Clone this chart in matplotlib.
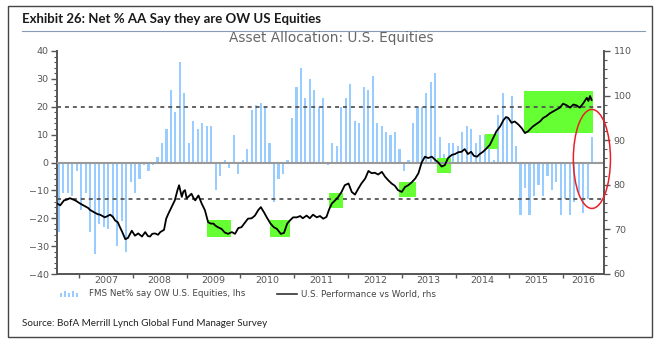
import numpy as np
import matplotlib.pyplot as plt
from matplotlib.patches import Rectangle, Ellipse
from matplotlib.lines import Line2D
from matplotlib.ticker import MultipleLocator

# FMS: net % of asset allocators overweight US equities, monthly from Aug 2006 (lhs)
fms_start = 2006 + 7 / 12 + 1 / 24
fms_net_ow = [
    -25, -11, -11, -12, -3, -17, -11, -25, -33, -22, -23, -24,
    -20, -30, -21, -32, -7, -11, -6, -1, -3, -1, 2, 7,
    12, 26, 18, 36, 25, 7, 15, 12, 14, 13, 13, -10,
    -5, 1, -2, 10, -4, 1, 5, 19, 20.5, 21.5, 20, 7,
    -14, -6, -4, 1, 16, 27, 34, 23, 30, 26, 20, 23,
    -1, 7, 6, 20, 23, 28, 15, 14, 27, 26, 31, 14,
    13, 11, 10, 11, 5, -3, 1, 14, 20, 20, 25, 29,
    32, 9, 3, 7, 7, 6, 11, 13, 12, 7, 10, 10,
    5, 1, 17, 25, 16, 24, 6, -19, -9, -19, -12, -8,
    -12, -5, -10, -7, -19, -13, -19, -14, -11, -18, -13, 9,
]

# US equity performance vs world (rhs)
perf_years = [
    2006.59, 2006.65, 2006.72, 2006.78, 2006.83, 2006.93, 2007.02, 2007.11,
    2007.17, 2007.20, 2007.30, 2007.35, 2007.39, 2007.48, 2007.58, 2007.63,
    2007.67, 2007.72, 2007.76, 2007.80, 2007.86, 2007.91, 2007.98, 2008.04,
    2008.10, 2008.17, 2008.23, 2008.28, 2008.32, 2008.36, 2008.41, 2008.47,
    2008.51, 2008.58, 2008.62, 2008.66, 2008.72, 2008.78, 2008.83, 2008.86,
    2008.91, 2008.94, 2008.97, 2009.00, 2009.03, 2009.09, 2009.13, 2009.16,
    2009.22, 2009.28, 2009.34, 2009.40, 2009.45, 2009.50, 2009.53, 2009.58,
    2009.65, 2009.71, 2009.77, 2009.84, 2009.90, 2009.96, 2010.02, 2010.09,
    2010.14, 2010.21, 2010.27, 2010.33, 2010.38, 2010.44, 2010.49, 2010.56,
    2010.62, 2010.68, 2010.75, 2010.81, 2010.87, 2010.92, 2010.98, 2011.05,
    2011.11, 2011.16, 2011.23, 2011.29, 2011.35, 2011.42, 2011.48, 2011.54,
    2011.60, 2011.65, 2011.70, 2011.76, 2011.82, 2011.88, 2011.94, 2012.01,
    2012.07, 2012.13, 2012.19, 2012.25, 2012.32, 2012.38, 2012.44, 2012.50,
    2012.56, 2012.63, 2012.69, 2012.75, 2012.81, 2012.87, 2012.93, 2013.00,
    2013.06, 2013.12, 2013.18, 2013.25, 2013.31, 2013.37, 2013.43, 2013.49,
    2013.56, 2013.62, 2013.68, 2013.74, 2013.80, 2013.86, 2013.93, 2013.99,
    2014.05, 2014.11, 2014.17, 2014.23, 2014.29, 2014.34, 2014.40, 2014.45,
    2014.51, 2014.58, 2014.64, 2014.70, 2014.76, 2014.83, 2014.89, 2014.94,
    2014.98, 2015.04, 2015.10, 2015.17, 2015.23, 2015.29, 2015.35, 2015.38,
    2015.44, 2015.51, 2015.57, 2015.63, 2015.69, 2015.75, 2015.82, 2015.88,
    2015.94, 2016.00, 2016.07, 2016.13, 2016.19, 2016.25, 2016.31, 2016.37,
    2016.44, 2016.47, 2016.50, 2016.53,
]
perf_values = [
    75.8, 75.4, 76.5, 76.7, 77.0, 76.5, 75.8, 75.2,
    74.8, 74.4, 73.7, 73.4, 73.3, 72.7, 73.3, 72.8,
    72.0, 71.6, 70.5, 69.5, 67.8, 68.1, 69.7, 68.6,
    69.1, 68.4, 69.4, 68.5, 68.4, 69.0, 69.1, 68.8,
    69.4, 69.9, 72.4, 73.5, 75.0, 76.5, 78.8, 79.9,
    77.3, 78.5, 78.8, 77.0, 77.3, 78.0, 77.0, 76.5,
    77.6, 75.8, 74.3, 71.6, 71.3, 71.3, 70.9, 70.5,
    70.1, 69.3, 69.0, 69.4, 69.0, 70.3, 70.5, 71.6,
    72.4, 72.5, 73.1, 74.3, 75.0, 73.8, 72.7, 71.3,
    70.5, 70.1, 69.0, 69.2, 71.3, 72.0, 72.7, 72.7,
    73.0, 72.5, 73.1, 72.5, 73.3, 72.7, 73.0, 72.4,
    72.8, 74.5, 75.8, 76.5, 77.3, 78.4, 79.9, 80.3,
    78.4, 77.8, 79.1, 80.3, 81.4, 83.1, 82.6, 82.7,
    82.3, 82.9, 81.8, 81.0, 80.3, 79.8, 78.8, 78.4,
    79.5, 79.9, 80.5, 81.4, 82.6, 85.0, 86.3, 86.0,
    86.3, 85.6, 85.0, 84.1, 84.4, 86.0, 86.7, 86.9,
    87.3, 87.4, 88.0, 86.9, 87.4, 86.5, 86.3, 86.9,
    87.4, 88.2, 89.0, 90.5, 92.0, 93.1, 94.5, 95.2,
    95.0, 93.9, 94.2, 93.5, 92.7, 91.6, 92.0, 92.4,
    93.1, 93.7, 94.2, 95.0, 95.4, 96.0, 96.5, 96.9,
    97.3, 98.2, 97.8, 97.3, 98.0, 97.8, 97.3, 98.2,
    99.5, 98.8, 99.9, 99.0,
]

# highlighted episodes on the rhs scale: (start, end, low, high)
highlights = [
    (2009.38, 2009.83, 68.4, 72.2),
    (2010.55, 2010.92, 68.4, 72.0),
    (2011.65, 2011.91, 74.9, 78.1),
    (2012.95, 2013.26, 77.2, 80.6),
    (2013.65, 2013.91, 82.6, 86.0),
    (2014.55, 2014.79, 88.1, 91.4),
    (2015.27, 2016.55, 91.7, 101.0),
]

upper_band = 20
lower_band = -13
years = list(range(2007, 2017))

x_lo, x_hi = 2006.59, 2016.76

fig = plt.figure(figsize=(6.61, 3.46), dpi=100)
ax = fig.add_axes([57 / 661, 72 / 346, 547 / 661, 223 / 346])
ax2 = ax.twinx()

bar_x = fms_start + np.arange(len(fms_net_ow)) / 12
ax.bar(bar_x, fms_net_ow, width=0.04, color='#99ccff', linewidth=0, zorder=2)

for x0, x1, y0, y1 in highlights:
    ax.add_patch(Rectangle((x0, y0), x1 - x0, y1 - y0, transform=ax2.transData,
                           facecolor='#66ff33', edgecolor='none', zorder=2.5))

ax.axhline(0, color='#9a9a9a', lw=1.5, zorder=3)
for lvl in (upper_band, lower_band):
    ax.axhline(lvl, color='#555555', lw=1.3, ls=(0, (2.2, 2.2)), zorder=3)

ax2.plot(perf_years, perf_values, color='black', lw=1.3, zorder=4)
ax2.add_patch(Ellipse((2016.535, 85.8), 0.69, 22.2, fill=False,
                      edgecolor='#e8202a', lw=1.1, clip_on=False, zorder=5))

ax.set_xlim(x_lo, x_hi)
ax.set_ylim(-40, 40)
ax2.set_ylim(60, 110)

for a in (ax, ax2):
    a.spines['top'].set_visible(False)
    for s in ('left', 'right', 'bottom'):
        a.spines[s].set_color('#555555')
        a.spines[s].set_linewidth(1.4)
ax.spines['right'].set_visible(False)
ax2.spines['left'].set_visible(False)
ax2.spines['bottom'].set_visible(False)

tick_kw = dict(colors='#555555', labelcolor='#555555', labelsize=6.8, direction='out')
ax.set_yticks(range(-40, 41, 10))
ax.yaxis.set_minor_locator(MultipleLocator(2))
ax.tick_params(axis='y', which='major', length=4, width=1, pad=2, **tick_kw)
ax.tick_params(axis='y', which='minor', length=2, width=0.8, colors='#555555')
ax2.set_yticks(range(60, 111, 10))
ax2.yaxis.set_minor_locator(MultipleLocator(2))
ax2.tick_params(axis='y', which='major', length=4, width=1, pad=3, **tick_kw)
ax2.tick_params(axis='y', which='minor', length=2, width=0.8, colors='#555555')

# year labels sit in the middle of each (visible) calendar year
mids = [y + 0.5 for y in years[:-1]] + [(years[-1] + x_hi) / 2]
ax.set_xticks(years, labels=[])
ax.set_xticks(mids, labels=[str(y) for y in years], minor=True)
ax.tick_params(axis='x', which='major', length=3, width=1, colors='#555555', direction='out')
ax.tick_params(axis='x', which='minor', length=0, pad=1.5, labelsize=6.8, labelcolor='#555555')

# outer frame, title and notes
narrow = ['Lato', 'DejaVu Sans']
fig.add_artist(Rectangle((8 / 661, 9 / 346), 644 / 661, 331 / 346, transform=fig.transFigure,
                         fill=False, edgecolor='#444444', lw=1.0))
fig.text(22 / 661, 1 - 19 / 346, 'Exhibit 26: Net % AA Say they are OW US Equities',
         fontsize=9.5, fontweight='bold', color='#1a1a1a', va='center', family=narrow)
fig.add_artist(Line2D([22 / 661, 645 / 661], [1 - 31 / 346] * 2, transform=fig.transFigure,
                      color='#8a9bb8', lw=0.8))
fig.text(331 / 661, 1 - 38 / 346, 'Asset Allocation: U.S. Equities', ha='center', va='center',
         fontsize=9.8, color='#666666')

# legend row
leg_y = 1 - 294 / 346
for i, h in enumerate([4, 6, 4, 6, 4]):
    fig.add_artist(Rectangle(((60 + 4 * i) / 661, leg_y - 3 / 346), 1.6 / 661, h / 346,
                             transform=fig.transFigure, facecolor='#99ccff', edgecolor='none'))
fig.text(89 / 661, leg_y, 'FMS Net% say OW U.S. Equities, lhs', fontsize=6.3, color='#444444', va='center')
fig.add_artist(Line2D([277 / 661, 297 / 661], [leg_y, leg_y], transform=fig.transFigure,
                      color='#333333', lw=1.2))
fig.text(301 / 661, leg_y, 'U.S. Performance vs World, rhs', fontsize=6.3, color='#444444', va='center')

fig.text(22 / 661, 1 - 323 / 346, 'Source: BofA Merrill Lynch Global Fund Manager Survey',
         fontsize=7.1, color='#222222', va='center', family=narrow)

fig.savefig('out.png', dpi=100)
